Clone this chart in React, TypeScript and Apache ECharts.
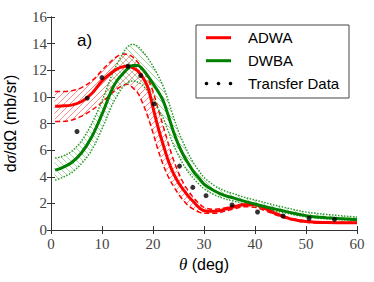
import React, { useEffect, useRef } from "react";
import * as echarts from "echarts";

// angle grid (deg) for the model curves
const theta = [0.8, 2, 4, 6, 8, 10, 12, 13, 14, 15, 16, 17, 18, 19, 20, 21, 22, 23, 24, 25, 26, 27, 28, 29, 30, 32, 34, 36, 38, 40, 42, 44, 46, 48, 50, 52, 54, 56, 58, 60];

// ADWA (red)
const adwa = [9.3, 9.32, 9.38, 9.65, 10.25, 11.2, 11.85, 12.1, 12.25, 12.32, 12.2, 11.95, 11.45, 10.7, 9.2, 7.7, 6.4, 5.2, 4.25, 3.55, 3.0, 2.5, 2.1, 1.7, 1.45, 1.4, 1.55, 1.75, 1.9, 1.9, 1.6, 1.25, 0.95, 0.75, 0.63, 0.58, 0.56, 0.55, 0.55, 0.55];
const adwaUpper = [10.4, 10.4, 10.45, 10.7, 11.2, 12.0, 12.75, 13.05, 13.22, 13.2, 13.0, 12.6, 12.1, 11.4, 10.4, 9.1, 7.8, 6.5, 5.3, 4.3, 3.5, 2.9, 2.4, 2.0, 1.7, 1.55, 1.65, 1.85, 1.95, 1.95, 1.65, 1.3, 1.0, 0.8, 0.68, 0.62, 0.6, 0.58, 0.58, 0.58];
const adwaLower = [8.15, 8.15, 8.25, 8.55, 9.0, 9.6, 10.3, 10.6, 10.85, 10.95, 10.7, 10.3, 9.5, 8.5, 7.3, 6.0, 4.9, 4.0, 3.3, 2.7, 2.2, 1.8, 1.55, 1.35, 1.25, 1.25, 1.4, 1.6, 1.75, 1.7, 1.45, 1.15, 0.88, 0.7, 0.58, 0.53, 0.52, 0.51, 0.51, 0.51];

// DWBA (green)
const dwba = [4.5, 4.65, 5.05, 5.8, 7.0, 8.7, 10.6, 11.25, 11.7, 12.1, 12.35, 12.35, 12.05, 11.55, 11.0, 10.4, 9.7, 8.6, 7.4, 6.4, 5.6, 4.95, 4.35, 3.9, 3.45, 2.95, 2.6, 2.38, 2.15, 1.95, 1.75, 1.57, 1.4, 1.22, 1.08, 0.98, 0.92, 0.87, 0.82, 0.77];
const dwbaUpper = [5.4, 5.5, 5.9, 6.7, 8.0, 9.7, 11.7, 12.5, 13.2, 13.75, 13.95, 13.8, 13.4, 12.9, 12.3, 11.6, 10.8, 9.7, 8.5, 7.4, 6.5, 5.7, 5.0, 4.45, 3.95, 3.35, 2.95, 2.7, 2.45, 2.25, 2.05, 1.85, 1.68, 1.5, 1.35, 1.25, 1.17, 1.1, 1.03, 0.97];
const dwbaLower = [3.75, 3.9, 4.3, 5.0, 6.0, 7.6, 9.4, 10.1, 10.7, 11.05, 11.2, 11.1, 10.85, 10.4, 9.8, 9.1, 8.4, 7.4, 6.4, 5.6, 4.9, 4.3, 3.85, 3.45, 3.1, 2.65, 2.35, 2.15, 1.95, 1.78, 1.6, 1.42, 1.28, 1.12, 0.98, 0.9, 0.84, 0.8, 0.76, 0.72];

// Transfer data
const dataTheta = [5.1, 7.1, 10.0, 15.1, 17.6, 20.2, 25.2, 27.8, 30.4, 35.5, 40.5, 45.5, 50.6, 55.6];
const dataXs = [7.4, 9.9, 11.45, 12.3, 11.6, 9.47, 4.8, 3.2, 2.58, 1.88, 1.35, 1.05, 0.88, 0.8];

const xTicks = { min: 0, max: 60, interval: 10 };
const yTicks = { min: 0, max: 16, interval: 2 };

function hatch(color: string, forward: boolean) {
  const d = forward
    ? "M-1,7 L7,-1 M-1,1 L1,-1 M5,7 L7,5"
    : "M-1,-1 L7,7 M5,-1 L7,1 M-1,5 L1,7";
  const svg = `<svg xmlns="http://www.w3.org/2000/svg" width="6" height="6"><path d="${d}" stroke="${color}" stroke-width="0.8" fill="none"/></svg>`;
  return {
    image: "data:image/svg+xml;charset=utf-8," + encodeURIComponent(svg),
    repeat: "repeat",
    imageWidth: 6,
    imageHeight: 6,
  };
}

const pairs = (xs: number[], ys: number[]) => xs.map((x, i) => [x, ys[i]]);

export default function App() {
  const ref = useRef<HTMLDivElement>(null);
  useEffect(() => {
    if (!ref.current) return;
    const chart = echarts.init(ref.current, null, { renderer: "svg" });
    const axisColor = "#333";
    const labelStyle = {
      fontFamily: "Liberation Serif",
      fontSize: 15,
      color: "#444",
    };
    const smooth = 0.35;
    const band = (lower: number[], upper: number[], fill: any) => ({
      type: "custom",
      coordinateSystem: "cartesian2d",
      data: [[theta[0], lower[0]]],
      silent: true,
      clip: true,
      z: 1,
      renderItem: (_params: any, api: any) => {
        const up = theta.map((t, i) => api.coord([t, upper[i]]));
        const lo = theta.map((t, i) => api.coord([t, lower[i]])).reverse();
        return {
          type: "polygon",
          shape: { points: up.concat(lo), smooth: 0.25 },
          style: { fill, stroke: "none" },
        };
      },
    });
    const edge = (ys: number[], color: string, type: any) => ({
      type: "line",
      data: pairs(theta, ys),
      symbol: "none",
      smooth,
      lineStyle: { color, width: 1.5, type },
      silent: true,
      z: 2,
    });
    const option: any = {
      animation: false,
      grid: { left: 51, top: 17, width: 306, height: 213, containLabel: false, outerBoundsMode: "none" },
      xAxis: [
        {
          type: "value",
          ...xTicks,
          position: "bottom",
          axisLine: { show: true, lineStyle: { color: axisColor, width: 1 } },
          axisTick: { show: true, inside: true, length: 4, lineStyle: { color: axisColor } },
          axisLabel: { ...labelStyle, margin: 6 },
          splitLine: { show: false },
          name: "{i|θ} (deg)",
          nameLocation: "middle",
          nameGap: 26,
          nameTextStyle: {
            fontFamily: "Liberation Sans",
            fontSize: 16,
            color: "#000",
            rich: { i: { fontFamily: "Liberation Serif", fontStyle: "italic", fontSize: 17, color: "#000" } },
          },
        },
        {
          type: "value",
          ...xTicks,
          position: "top",
          axisLine: { show: true, lineStyle: { color: axisColor, width: 1 } },
          axisTick: { show: true, inside: true, length: 4, lineStyle: { color: axisColor } },
          axisLabel: { show: false },
          splitLine: { show: false },
        },
      ],
      yAxis: [
        {
          type: "value",
          ...yTicks,
          position: "left",
          axisLine: { show: true, lineStyle: { color: axisColor, width: 1 } },
          axisTick: { show: true, inside: true, length: 4, lineStyle: { color: axisColor } },
          axisLabel: { ...labelStyle, margin: 4 },
          splitLine: { show: false },
          name: "d{s|σ}/dΩ (mb/sr)",
          nameLocation: "middle",
          nameGap: 32,
          nameTextStyle: {
            fontFamily: "Liberation Sans",
            fontSize: 16,
            lineHeight: 18,
            color: "#000",
            rich: { s: { fontFamily: "Liberation Serif", fontStyle: "italic", fontSize: 17, lineHeight: 18, color: "#000" } },
          },
        },
        {
          type: "value",
          ...yTicks,
          position: "right",
          axisLine: { show: true, lineStyle: { color: axisColor, width: 1 } },
          axisTick: { show: true, inside: true, length: 4, lineStyle: { color: axisColor } },
          axisLabel: { show: false },
          splitLine: { show: false },
        },
      ],
      series: [
        band(adwaLower, adwaUpper, hatch("#ff7070", true)),
        band(dwbaLower, dwbaUpper, hatch("#8ccc8c", false)),
        edge(adwaUpper, "#ff0000", [5, 3]),
        edge(adwaLower, "#ff0000", [5, 3]),
        edge(dwbaUpper, "#2a9a2a", [1.5, 1.5]),
        edge(dwbaLower, "#2a9a2a", [1.5, 1.5]),
        {
          name: "ADWA",
          type: "line",
          data: pairs(theta, adwa),
          symbol: "none",
          smooth,
          lineStyle: { color: "#ff0000", width: 3 },
          z: 3,
        },
        {
          name: "DWBA",
          type: "line",
          data: pairs(theta, dwba),
          symbol: "none",
          smooth,
          lineStyle: { color: "#008000", width: 3 },
          z: 3,
        },
        {
          name: "Transfer Data",
          type: "scatter",
          data: pairs(dataTheta, dataXs),
          symbol: "circle",
          symbolSize: 5,
          itemStyle: { color: "#000" },
          z: 4,
        },
      ],
      graphic: [
        {
          type: "text",
          left: 77,
          top: 32,
          z: 100,
          style: { text: "a)", fontFamily: "Liberation Sans", fontSize: 17, fill: "#000" },
        },
        {
          type: "group",
          z: 100,
          children: [
            {
              type: "rect",
              shape: { x: 196, y: 25, width: 153, height: 73 },
              style: { fill: "#fff", stroke: "#444", lineWidth: 1 },
            },
            { type: "line", shape: { x1: 206, y1: 37.7, x2: 231, y2: 37.7 }, style: { stroke: "#ff0000", lineWidth: 3 } },
            { type: "line", shape: { x1: 206, y1: 60.7, x2: 231, y2: 60.7 }, style: { stroke: "#008000", lineWidth: 3 } },
            { type: "circle", shape: { cx: 206.5, cy: 83.5, r: 1.8 }, style: { fill: "#000" } },
            { type: "circle", shape: { cx: 218.5, cy: 83.5, r: 1.8 }, style: { fill: "#000" } },
            { type: "circle", shape: { cx: 230.5, cy: 83.5, r: 1.8 }, style: { fill: "#000" } },
            { type: "text", x: 248, y: 37.7, style: { text: "ADWA", fontFamily: "Liberation Sans", fontSize: 15, fill: "#000", verticalAlign: "middle" } },
            { type: "text", x: 248, y: 60.7, style: { text: "DWBA", fontFamily: "Liberation Sans", fontSize: 15, fill: "#000", verticalAlign: "middle" } },
            { type: "text", x: 248, y: 83.3, style: { text: "Transfer Data", fontFamily: "Liberation Sans", fontSize: 15, fill: "#000", verticalAlign: "middle" } },
          ],
        },
      ],
    };
    chart.setOption(option);
    return () => chart.dispose();
  }, []);
  return <div ref={ref} style={{ width: 374, height: 282, position: "absolute", left: 0, top: 0 }} />;
}
